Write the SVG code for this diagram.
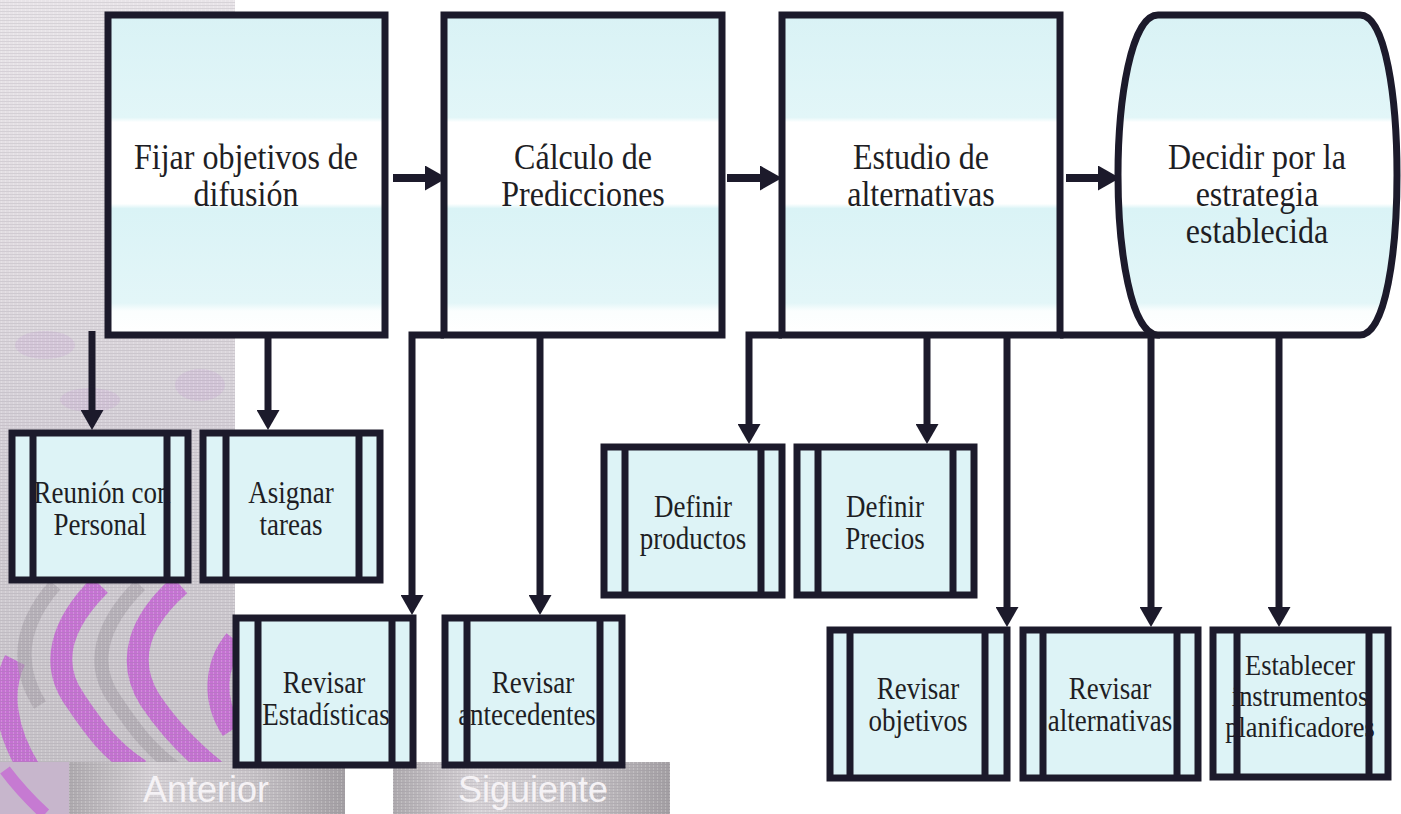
<svg xmlns="http://www.w3.org/2000/svg" width="1401" height="814" viewBox="0 0 1401 814">
<style>
.ln{fill:none;stroke:#1c1a2b;stroke-width:7;stroke-linejoin:miter}
.cn{fill:none;stroke:#1c1a2b;stroke-width:7;marker-end:url(#ah)}
.ch{fill:none;stroke:#1c1a2b;stroke-width:8;marker-end:url(#ahh)}
.box{fill:url(#bf);stroke:#1c1a2b;stroke-width:7}
.sf{fill:#ddf3f6;stroke:none}
.so{fill:none;stroke:#1c1a2b;stroke-width:7}
.mt{font-family:"Liberation Serif","Times New Roman",serif;font-size:36px;fill:#1e1e24;text-anchor:middle}
.st{font-family:"Liberation Serif","Times New Roman",serif;font-size:31px;fill:#1e1e24;text-anchor:middle}
.st3{font-family:"Liberation Serif","Times New Roman",serif;font-size:30px;fill:#1e1e24;text-anchor:middle}
.bt{font-family:"Liberation Sans",Arial,sans-serif;font-size:36px;fill:#f5f2f5;text-anchor:middle}
</style>
<defs>
<marker id="ah" markerUnits="userSpaceOnUse" viewBox="0 0 20 23" markerWidth="20" markerHeight="23" refX="13" refY="11.5" orient="auto">
<path d="M0,0 L20,11.5 L0,23 Z" fill="#1c1a2b"/>
</marker>
<marker id="ahh" markerUnits="userSpaceOnUse" viewBox="0 0 22 25" markerWidth="22" markerHeight="25" refX="15" refY="12.5" orient="auto">
<path d="M0,0 L22,12.5 L0,25 Z" fill="#1c1a2b"/>
</marker>
<linearGradient id="bf" x1="0" y1="0" x2="0" y2="1">
<stop offset="0" stop-color="#d9f2f5"/>
<stop offset="0.32" stop-color="#e2f6f8"/>
<stop offset="0.335" stop-color="#ffffff"/>
<stop offset="0.59" stop-color="#ffffff"/>
<stop offset="0.605" stop-color="#daf3f6"/>
<stop offset="0.9" stop-color="#e3f6f8"/>
<stop offset="0.925" stop-color="#fbfefe"/>
<stop offset="1" stop-color="#ffffff"/>
</linearGradient>
<linearGradient id="bar" x1="0" y1="0" x2="1" y2="0">
<stop offset="0" stop-color="#aeaaae"/>
<stop offset="0.3" stop-color="#d6d2d6"/>
<stop offset="0.65" stop-color="#c9c5c9"/>
<stop offset="1" stop-color="#a39fa3"/>
</linearGradient>
<linearGradient id="col" x1="0" y1="0" x2="0" y2="1">
<stop offset="0" stop-color="#e8e4e8"/>
<stop offset="0.35" stop-color="#dfdadf"/>
<stop offset="0.55" stop-color="#d5d0d7"/>
<stop offset="1" stop-color="#c6c2c7"/>
</linearGradient>
<pattern id="scan" width="4" height="3" patternUnits="userSpaceOnUse">
<rect x="0" y="2" width="4" height="1" fill="#8c868e" opacity="0.18"/>
<rect x="1" y="0" width="1" height="2" fill="#ffffff" opacity="0.2"/>
</pattern>
</defs>

<g id="background">
<rect x="0" y="0" width="235" height="770" fill="url(#col)"/>
<g fill="#c9a6d6" opacity="0.28">
<ellipse cx="45" cy="345" rx="30" ry="14"/>
<ellipse cx="150" cy="320" rx="35" ry="12"/>
<ellipse cx="200" cy="385" rx="25" ry="16"/>
<ellipse cx="90" cy="400" rx="30" ry="12"/>
</g>
<g fill="none" stroke="#c452d6" stroke-width="22" opacity="0.72">
<path d="M100,585 C60,625 50,665 75,700 C95,730 110,750 140,770"/>
<path d="M180,585 C140,620 125,660 150,700 C170,730 190,750 215,770"/>
<path d="M15,660 C0,690 5,730 30,770"/>
<path d="M235,640 C215,665 212,700 232,730"/>
</g>
<g fill="none" stroke="#a8a2aa" stroke-width="14" opacity="0.6">
<path d="M140,585 C100,625 90,665 115,700 C135,730 150,750 178,770"/>
<path d="M55,585 C20,625 15,665 40,705"/>
</g>
<rect x="0" y="0" width="235" height="770" fill="url(#scan)"/>
<rect x="0" y="762" width="69" height="52" fill="#c7b6cc"/>
<path d="M5,770 C20,790 30,800 45,814" fill="none" stroke="#c452d6" stroke-width="12" opacity="0.6"/>
<rect x="69" y="762" width="276" height="52" fill="url(#bar)"/>
<rect x="393" y="762" width="277" height="52" fill="url(#bar)"/>
<rect x="69" y="762" width="276" height="52" fill="url(#scan)"/>
<rect x="393" y="762" width="277" height="52" fill="url(#scan)"/>
<text class="bt" x="206" y="802">Anterior</text>
<text class="bt" x="533" y="802">Siguiente</text>
</g>

<g id="connectors">
<path class="ch" d="M393,178 H440"/>
<path class="ch" d="M727,178 H775"/>
<path class="ch" d="M1066,178 H1113"/>
<path class="cn" d="M92,331 V423"/>
<path class="cn" d="M268,335 V423"/>
<path class="cn" d="M444,335 H412 V608"/>
<path class="cn" d="M540,335 V608"/>
<path class="cn" d="M782,335 H749 V437"/>
<path class="cn" d="M927,335 V437"/>
<path class="ln" d="M1060,335 H1160"/>
<path class="cn" d="M1007,335 V620"/>
<path class="cn" d="M1151,335 V620"/>
<path class="cn" d="M1279,335 V620"/>
</g>

<g id="n1">
<rect class="box" x="108" y="15" width="277" height="320"/>
<text class="mt" transform="translate(246 0) scale(0.89 1)" x="0" y="169">Fijar objetivos de</text>
<text class="mt" transform="translate(246 0) scale(0.89 1)" x="0" y="206">difusión</text>
</g>
<g id="n2">
<rect class="box" x="444" y="15" width="278" height="320"/>
<text class="mt" transform="translate(583 0) scale(0.89 1)" x="0" y="169">Cálculo de</text>
<text class="mt" transform="translate(583 0) scale(0.89 1)" x="0" y="206">Predicciones</text>
</g>
<g id="n3">
<rect class="box" x="782" y="15" width="278" height="320"/>
<text class="mt" transform="translate(921 0) scale(0.89 1)" x="0" y="169">Estudio de</text>
<text class="mt" transform="translate(921 0) scale(0.89 1)" x="0" y="206">alternativas</text>
</g>
<g id="n4">
<path class="box" d="M1158,15 H1360 C1386,15 1397,100 1397,175 C1397,250 1386,335 1360,335 H1158 C1131,335 1118,250 1118,175 C1118,100 1131,15 1158,15 Z"/>
<text class="mt" transform="translate(1257 0) scale(0.89 1)" x="0" y="169">Decidir por la</text>
<text class="mt" transform="translate(1257 0) scale(0.89 1)" x="0" y="206">estrategia</text>
<text class="mt" transform="translate(1257 0) scale(0.89 1)" x="0" y="243">establecida</text>
</g>

<g id="s1">
<rect class="sf" x="12" y="433" width="176" height="147"/>
<text class="st" transform="translate(102 0) scale(0.87 1)" x="0" y="503">Reunión con</text>
<text class="st" transform="translate(100 0) scale(0.87 1)" x="0" y="535">Personal</text>
<rect class="so" x="12" y="433" width="176" height="147"/>
<path class="so" d="M33,433 V580 M167,433 V580"/>
</g>
<g id="s2">
<rect class="sf" x="203" y="433" width="177" height="147"/>
<text class="st" transform="translate(291 0) scale(0.87 1)" x="0" y="503">Asignar</text>
<text class="st" transform="translate(291 0) scale(0.87 1)" x="0" y="535">tareas</text>
<rect class="so" x="203" y="433" width="177" height="147"/>
<path class="so" d="M226,433 V580 M359,433 V580"/>
</g>
<g id="s3">
<rect class="sf" x="236" y="618" width="177" height="147"/>
<text class="st" transform="translate(324 0) scale(0.87 1)" x="0" y="693">Revisar</text>
<text class="st" transform="translate(326 0) scale(0.87 1)" x="0" y="725">Estadísticas</text>
<rect class="so" x="236" y="618" width="177" height="147"/>
<path class="so" d="M258,618 V765 M392,618 V765"/>
</g>
<g id="s4">
<rect class="sf" x="445" y="618" width="177" height="147"/>
<text class="st" transform="translate(533 0) scale(0.87 1)" x="0" y="693">Revisar</text>
<text class="st" transform="translate(527 0) scale(0.87 1)" x="0" y="725">antecedentes</text>
<rect class="so" x="445" y="618" width="177" height="147"/>
<path class="so" d="M467,618 V765 M600,618 V765"/>
</g>
<g id="s5">
<rect class="sf" x="604" y="447" width="178" height="148"/>
<text class="st" transform="translate(693 0) scale(0.87 1)" x="0" y="517">Definir</text>
<text class="st" transform="translate(693 0) scale(0.87 1)" x="0" y="549">productos</text>
<rect class="so" x="604" y="447" width="178" height="148"/>
<path class="so" d="M625,447 V595 M761,447 V595"/>
</g>
<g id="s6">
<rect class="sf" x="797" y="447" width="177" height="148"/>
<text class="st" transform="translate(885 0) scale(0.87 1)" x="0" y="517">Definir</text>
<text class="st" transform="translate(885 0) scale(0.87 1)" x="0" y="549">Precios</text>
<rect class="so" x="797" y="447" width="177" height="148"/>
<path class="so" d="M818,447 V595 M953,447 V595"/>
</g>
<g id="s7">
<rect class="sf" x="830" y="630" width="177" height="148"/>
<text class="st" transform="translate(918 0) scale(0.87 1)" x="0" y="699">Revisar</text>
<text class="st" transform="translate(918 0) scale(0.87 1)" x="0" y="731">objetivos</text>
<rect class="so" x="830" y="630" width="177" height="148"/>
<path class="so" d="M850,630 V778 M985,630 V778"/>
</g>
<g id="s8">
<rect class="sf" x="1023" y="630" width="175" height="148"/>
<text class="st" transform="translate(1110 0) scale(0.87 1)" x="0" y="699">Revisar</text>
<text class="st" transform="translate(1110 0) scale(0.87 1)" x="0" y="731">alternativas</text>
<rect class="so" x="1023" y="630" width="175" height="148"/>
<path class="so" d="M1043,630 V778 M1177,630 V778"/>
</g>
<g id="s9">
<rect class="sf" x="1213" y="630" width="175" height="147"/>
<text class="st3" transform="translate(1300 0) scale(0.88 1)" x="0" y="675">Establecer</text>
<text class="st3" transform="translate(1300 0) scale(0.88 1)" x="0" y="706">instrumentos</text>
<text class="st3" transform="translate(1300 0) scale(0.88 1)" x="0" y="737">planificadores</text>
<rect class="so" x="1213" y="630" width="175" height="147"/>
<path class="so" d="M1237,630 V777 M1369,630 V777"/>
</g>
</svg>
